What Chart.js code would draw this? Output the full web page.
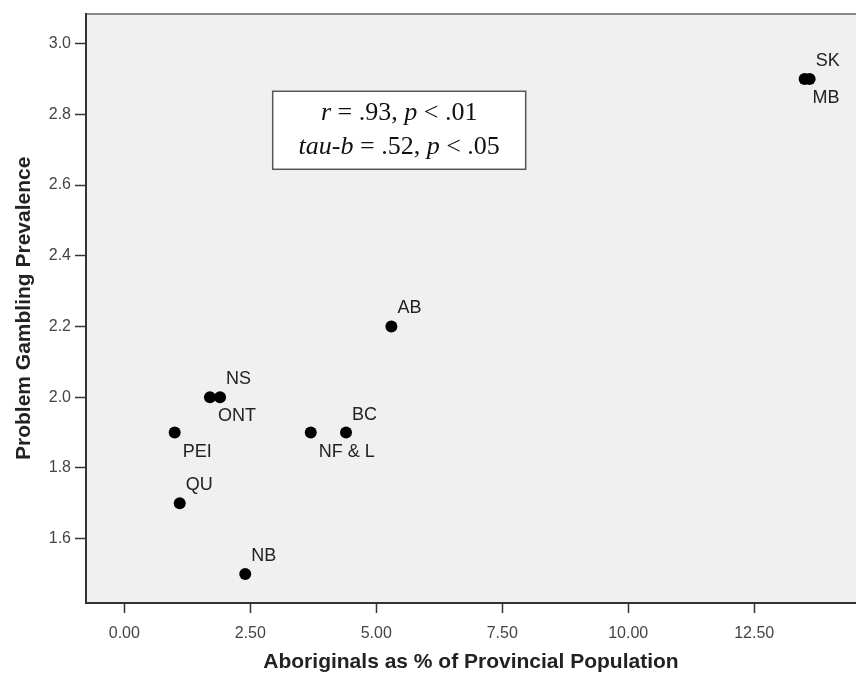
<!DOCTYPE html>
<html>
<head>
<meta charset="utf-8">
<script src="https://cdn.jsdelivr.net/npm/chart.js@4/dist/chart.umd.min.js"></script>
<style>
  html, body { margin: 0; padding: 0; background: #fff; overflow: hidden; }
  canvas { display: block; }
</style>
</head>
<body>
<canvas id="chScatter" width="856" height="675"></canvas>
<script>
/* aboriginal population vs problem gambling, by province */

var provinces = ['SK', 'MB', 'AB', 'NS', 'ONT', 'PEI', 'QU', 'NB', 'BC', 'NF & L'];
var aboriginalPct = [13.6, 13.5, 5.3, 1.9, 1.7, 1.0, 1.1, 2.4, 4.4, 3.7];
var prevalence = [2.9, 2.9, 2.2, 2.0, 2.0, 1.9, 1.7, 1.5, 1.9, 1.9];

var xTicks = [0, 2.5, 5, 7.5, 10, 12.5];
var yTicks = [1.6, 1.8, 2.0, 2.2, 2.4, 2.6, 2.8, 3.0];

// labels drawn under their dot instead of above
var labelBelow = ['MB', 'ONT', 'PEI', 'NF & L'];

var statLines = [
  [['r', true], [' = .93, ', false], ['p', true], [' < .01', false]],
  [['tau-b', true], [' = .52, ', false], ['p', true], [' < .05', false]]
];

var sans = "'Liberation Sans', Arial, sans-serif";
var serif = "'Liberation Serif', 'Times New Roman', serif";

// grey plot area + top frame line
var plotBg = {
  id: 'plotBg',
  beforeDraw: function (chart) {
    var a = chart.chartArea, c = chart.ctx;
    c.save();
    c.fillStyle = '#f0f0f0';
    c.fillRect(a.left, a.top, a.right - a.left, a.bottom - a.top);
    c.strokeStyle = '#666';
    c.lineWidth = 1.5;
    c.beginPath();
    c.moveTo(a.left, a.top + 0.5);
    c.lineTo(a.right, a.top + 0.5);
    c.stroke();
    c.restore();
  }
};

// province names next to each dot
var pointNames = {
  id: 'pointNames',
  afterDatasetsDraw: function (chart) {
    var c = chart.ctx;
    var pts = chart.getDatasetMeta(0).data;
    c.save();
    c.font = '18px ' + sans;
    c.fillStyle = '#222';
    c.textAlign = 'left';
    c.textBaseline = 'middle';
    pts.forEach(function (p, i) {
      var below = labelBelow.indexOf(provinces[i]) >= 0;
      c.fillText(provinces[i], p.x + (below ? 8 : 6), p.y + (below ? 19 : -18));
    });
    c.restore();
  }
};

// correlation box
var statBox = {
  id: 'statBox',
  afterDraw: function (chart) {
    var c = chart.ctx;
    var cx = chart.scales.x.getPixelForValue(5.455);
    var cy = chart.scales.y.getPixelForValue(2.755);
    var w = 253, h = 78;
    c.save();
    c.fillStyle = '#fff';
    c.fillRect(cx - w / 2, cy - h / 2, w, h);
    c.strokeStyle = '#555';
    c.lineWidth = 1.5;
    c.strokeRect(cx - w / 2, cy - h / 2, w, h);
    c.fillStyle = '#111';
    c.textBaseline = 'middle';
    c.textAlign = 'left';
    statLines.forEach(function (line, li) {
      var fonts = line.map(function (s) { return (s[1] ? 'italic ' : '') + '26px ' + serif; });
      var total = 0;
      line.forEach(function (s, k) { c.font = fonts[k]; total += c.measureText(s[0]).width; });
      var x = cx - total / 2;
      var y = cy + (li === 0 ? -17 : 17);
      line.forEach(function (s, k) {
        c.font = fonts[k];
        c.fillText(s[0], x, y);
        x += c.measureText(s[0]).width;
      });
    });
    c.restore();
  }
};

var chScatter = document.getElementById('chScatter');
if (chScatter) {
  new Chart(chScatter, {
    type: 'scatter',
    data: {
      datasets: [{
        data: provinces.map(function (p, i) { return { x: aboriginalPct[i], y: prevalence[i] }; }),
        backgroundColor: '#000',
        borderColor: '#000',
        borderWidth: 0,
        pointRadius: 6,
        pointHoverRadius: 6
      }]
    },
    options: {
      responsive: false,
      animation: false,
      events: [],
      layout: { autoPadding: false, padding: { top: 12, right: 0, bottom: 0, left: 0 } },
      plugins: { legend: { display: false }, tooltip: { enabled: false } },
      scales: {
        x: {
          type: 'linear',
          min: -0.76,
          max: 14.52,
          afterBuildTicks: function (s) { s.ticks = xTicks.map(function (v) { return { value: v }; }); },
          afterFit: function (s) { s.height = 72; },
          ticks: {
            callback: function (v) { return Number(v).toFixed(2); },
            font: { family: sans, size: 16 },
            color: '#444',
            padding: 11,
            maxRotation: 0
          },
          grid: { drawOnChartArea: false, drawTicks: true, tickLength: 10, tickColor: '#333', tickWidth: 1.5 },
          border: { color: '#333', width: 2 },
          title: {
            display: true,
            text: 'Aboriginals as % of Provincial Population',
            font: { family: sans, size: 21, weight: 'bold' },
            color: '#222',
            padding: { top: 0, bottom: 0 }
          }
        },
        y: {
          type: 'linear',
          min: 1.418,
          max: 3.085,
          afterBuildTicks: function (s) { s.ticks = yTicks.map(function (v) { return { value: v }; }); },
          afterFit: function (s) { s.width = 86; },
          ticks: {
            callback: function (v) { return Number(v).toFixed(1); },
            font: { family: sans, size: 16 },
            color: '#444',
            padding: 4
          },
          grid: { drawOnChartArea: false, drawTicks: true, tickLength: 11, tickColor: '#333', tickWidth: 1.5 },
          border: { color: '#333', width: 2 },
          title: {
            display: true,
            text: 'Problem Gambling Prevalence',
            font: { family: sans, size: 21, weight: 'bold' },
            color: '#222',
            padding: { top: 12, bottom: 0 }
          }
        }
      }
    },
    plugins: [plotBg, pointNames, statBox]
  });
}
</script>
</body>
</html>
